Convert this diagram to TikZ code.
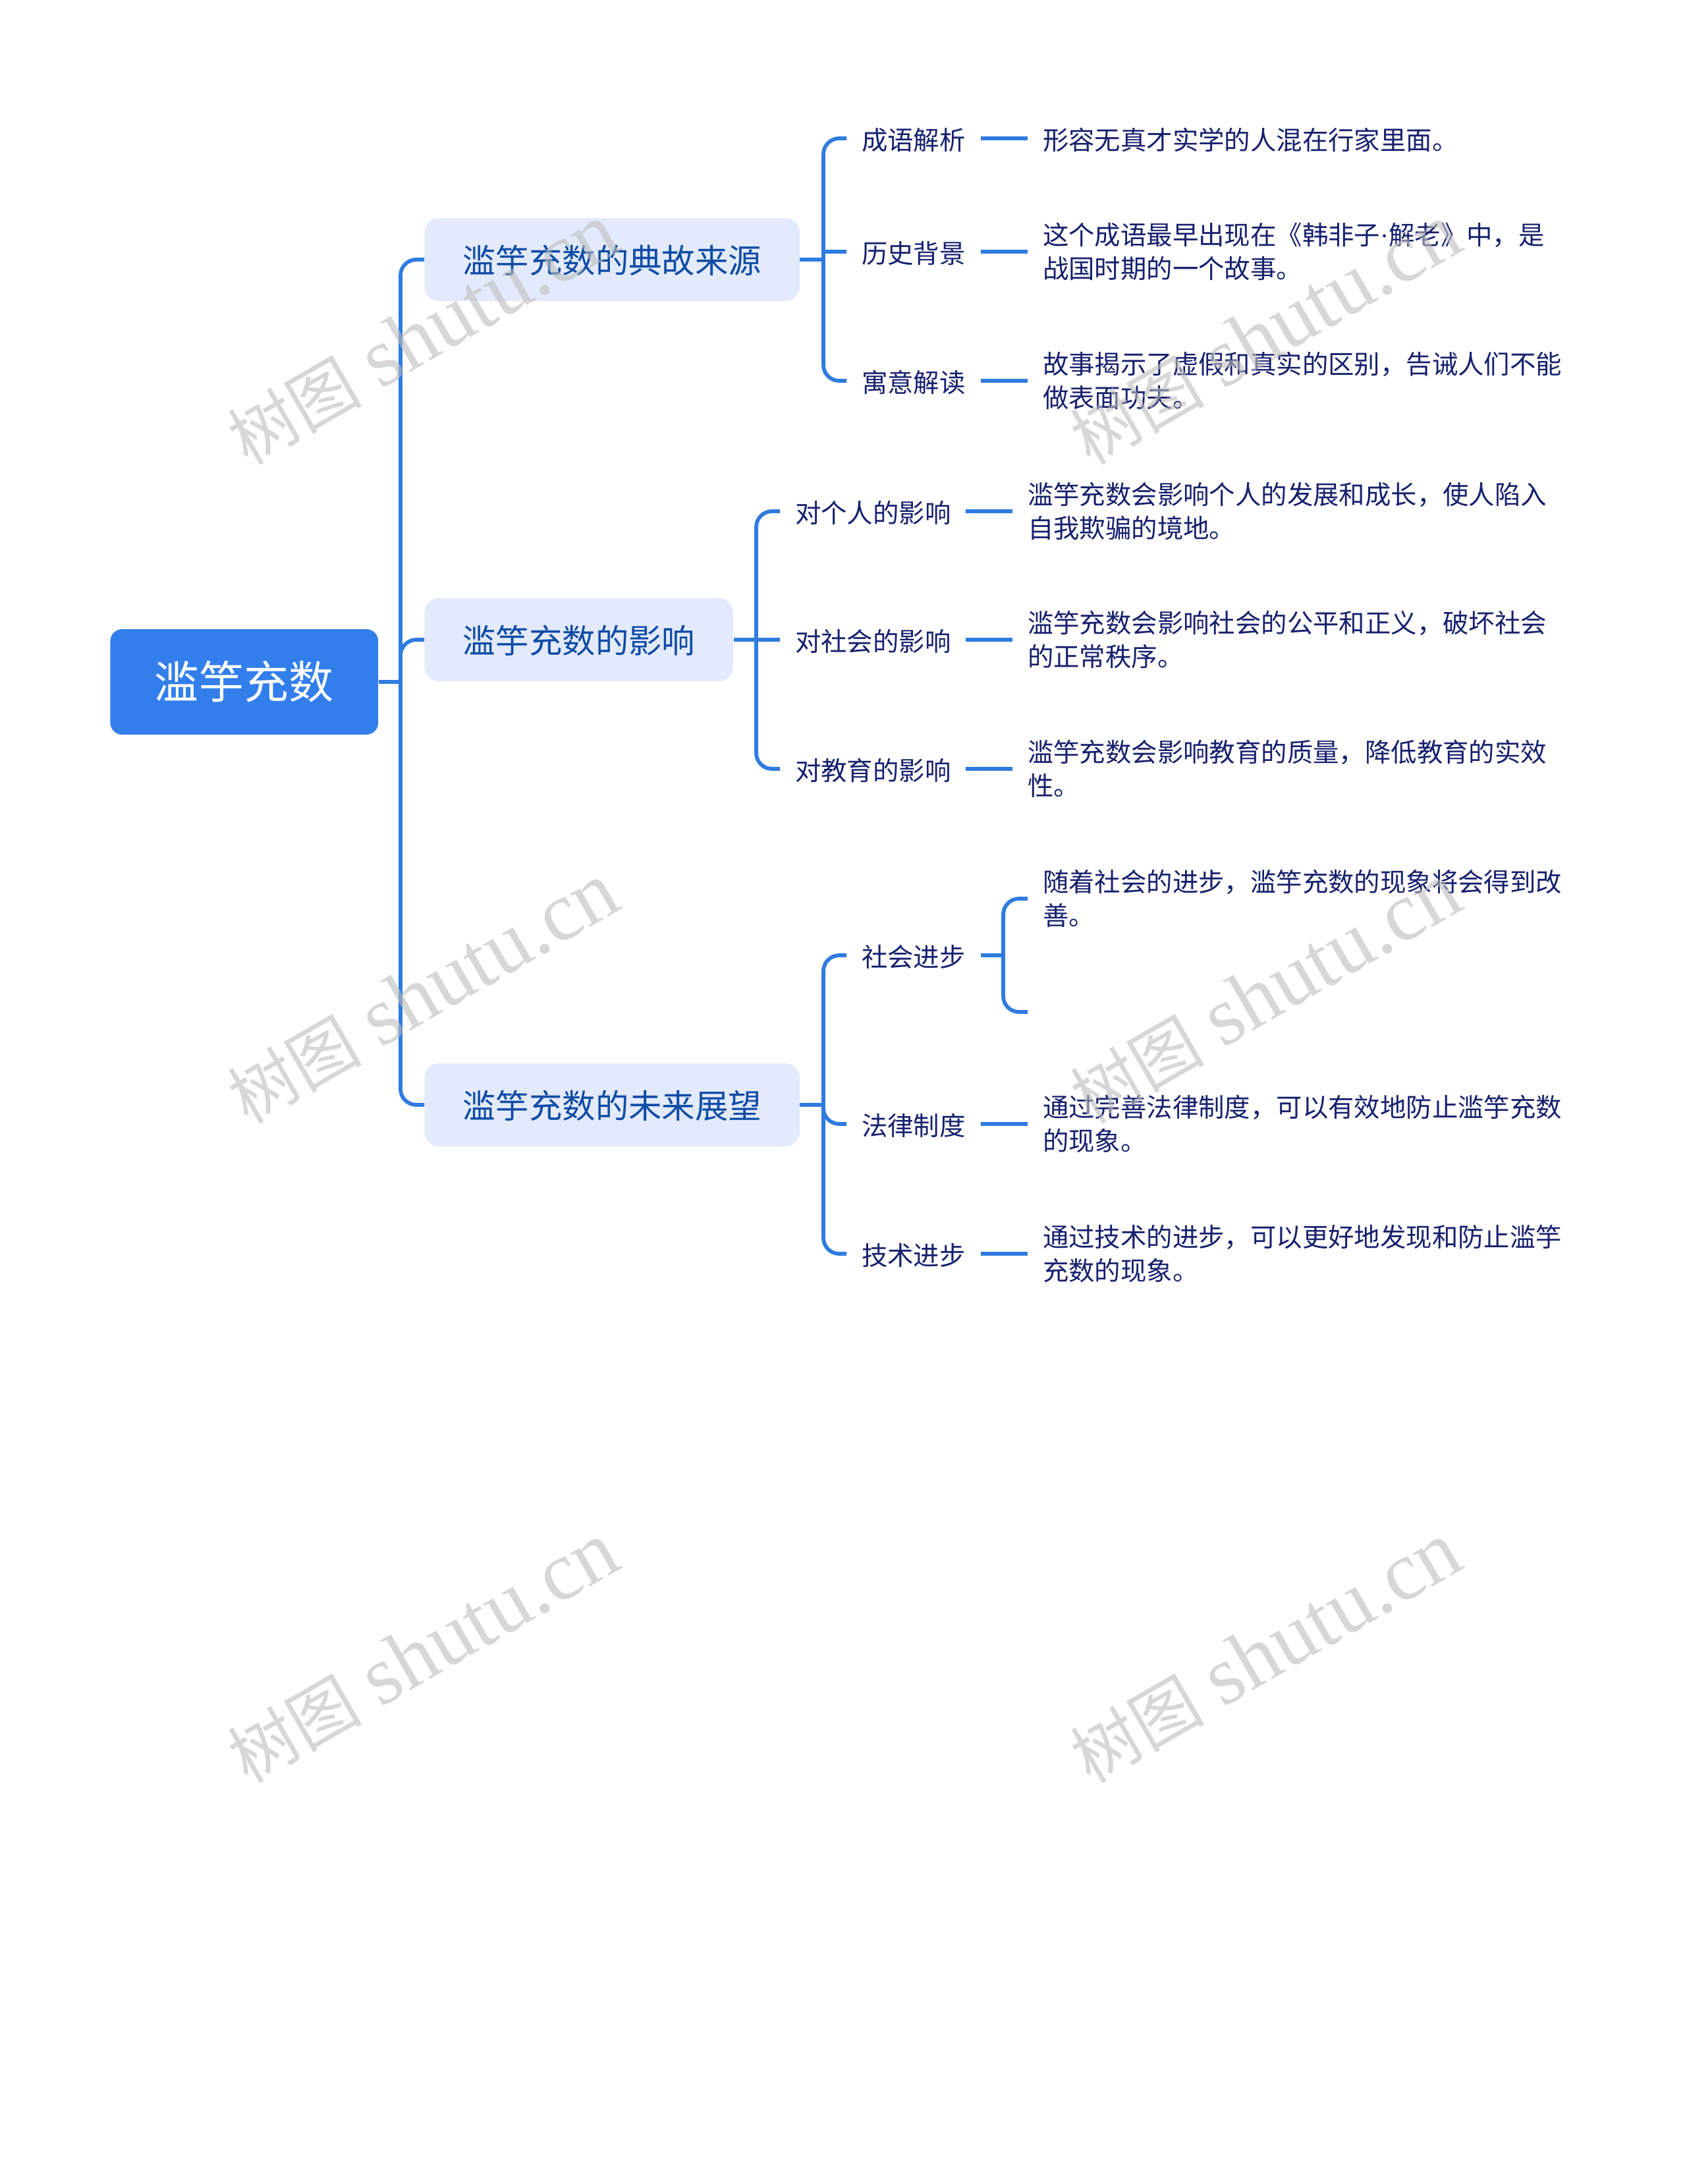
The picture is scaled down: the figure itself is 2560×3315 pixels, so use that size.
\documentclass[tikz,border=0pt]{standalone}
\usepackage{fontspec}
\setmainfont{Noto Sans CJK SC}
\newfontfamily\latinface{Liberation Serif}
\definecolor{linkblue}{HTML}{2F7BE0}
\definecolor{rootblue}{HTML}{327FEC}
\definecolor{lightblue}{HTML}{E3EAFB}
\definecolor{topicblue}{HTML}{0F4CA6}
\definecolor{inknavy}{HTML}{16206E}
\definecolor{wmgrey}{HTML}{BDBDBD}
\newcommand{\wmtext}{{\fontsize{51}{60}\selectfont 树图} {\latinface shutu.cn}}
\tikzset{
  link/.style={draw=linkblue,line width=2.9pt,rounded corners=12pt},
  rootbox/.style={fill=rootblue,rounded corners=9pt,text=white,inner xsep=33.7pt,inner ysep=0pt,minimum height=80pt,font=\fontsize{34}{40}\selectfont},
  topicbox/.style={fill=lightblue,rounded corners=11pt,text=topicblue,inner xsep=29pt,inner ysep=0pt,minimum height=63pt,anchor=west,execute at begin node={\rule{0pt}{22.5pt}},font=\fontsize{25.2}{30}\selectfont},
  headbox/.style={text=inknavy,inner xsep=11.3pt,inner ysep=0pt,anchor=west,align=left,execute at begin node={\rule{0pt}{19pt}},font=\fontsize{19.7}{25.4}\selectfont},
  leafbox/.style={headbox},
  wmark/.style={text=wmgrey,opacity=.6,rotate=30,font=\fontsize{63.5}{70}\selectfont}
}
\begin{document}
\begin{tikzpicture}[x=.5pt,y=-.5pt]
  \useasboundingbox (0,0) rectangle (2560,3315);
  \node[rootbox,anchor=west] (root) at (167,1035) {滥竽充数};
  \node[topicbox] (origin) at (644,394) {滥竽充数的典故来源};
  \node[topicbox] (effect) at (644,971) {滥竽充数的影响};
  \node[topicbox] (future) at (644,1677) {滥竽充数的未来展望};
  \coordinate (maintrunk) at (608,1035);
  \coordinate (origintrunk) at (1250,394);
  \coordinate (effecttrunk) at (1148,971);
  \coordinate (futuretrunk) at (1250,1677);
  \coordinate (progresstrunk) at (1523,1450);

  \node[headbox] (idiom) at (1285,210) {成语解析};
  \node[headbox] (history) at (1285,382) {历史背景};
  \node[headbox] (moral) at (1285,578) {寓意解读};
  \node[headbox] (person) at (1184,776) {对个人的影响};
  \node[headbox] (society) at (1184,971) {对社会的影响};
  \node[headbox] (education) at (1184,1167) {对教育的影响};
  \node[headbox] (progress) at (1285,1450) {社会进步};
  \node[headbox] (law) at (1285,1706) {法律制度};
  \node[headbox] (tech) at (1285,1903) {技术进步};

  \node[leafbox] (idiomtext) at (1560,210) {形容无真才实学的人混在行家里面。};
  \node[leafbox] (historytext) at (1560,382) {这个成语最早出现在《韩非子{\latinface ·}解老》中，是\\战国时期的一个故事。};
  \node[leafbox] (moraltext) at (1560,578) {故事揭示了虚假和真实的区别，告诫人们不能\\做表面功夫。};
  \node[leafbox] (persontext) at (1537,776) {滥竽充数会影响个人的发展和成长，使人陷入\\自我欺骗的境地。};
  \node[leafbox] (societytext) at (1537,971) {滥竽充数会影响社会的公平和正义，破坏社会\\的正常秩序。};
  \node[leafbox] (educationtext) at (1537,1167) {滥竽充数会影响教育的质量，降低教育的实效\\性。};
  \node[leafbox] (progresstext) at (1560,1364) {随着社会的进步，滥竽充数的现象将会得到改\\善。};
  \coordinate (progressend) at (1560,1536);
  \node[leafbox] (lawtext) at (1560,1706) {通过完善法律制度，可以有效地防止滥竽充数\\的现象。};
  \node[leafbox] (techtext) at (1560,1903) {通过技术的进步，可以更好地发现和防止滥竽\\充数的现象。};

  \draw[link] (root.east) -- (maintrunk);
  \draw[link] (origin.west) -| (maintrunk) |- (future.west);
  \draw[link] (effect.west) -| (maintrunk);

  \draw[link] (origin.east) -- (origintrunk);
  \draw[link] (idiom.west) -| (origintrunk) |- (moral.west);
  \draw[link] (history.west) -- (history.west -| origintrunk);
  \draw[link] (effect.east) -- (society.west);
  \draw[link] (person.west) -| (effecttrunk) |- (education.west);
  \draw[link] (future.east) -- (futuretrunk);
  \draw[link] (progress.west) -| (futuretrunk) |- (tech.west);
  \draw[link] (futuretrunk) |- (law.west);

  \draw[link] (idiom.east) -- (idiomtext.west);
  \draw[link] (history.east) -- (historytext.west);
  \draw[link] (moral.east) -- (moraltext.west);
  \draw[link] (person.east) -- (persontext.west);
  \draw[link] (society.east) -- (societytext.west);
  \draw[link] (education.east) -- (educationtext.west);
  \draw[link] (progress.east) -- (progresstrunk);
  \draw[link] (progresstext.west) -| (progresstrunk) |- (progressend);
  \draw[link] (law.east) -- (lawtext.west);
  \draw[link] (tech.east) -- (techtext.west);

  \node[wmark] (wmarka) at (642,508) {\wmtext};
  \node[wmark] (wmarkb) at (1921,508) {\wmtext};
  \node[wmark] (wmarkc) at (642,1508) {\wmtext};
  \node[wmark] (wmarkd) at (1921,1508) {\wmtext};
  \node[wmark] (wmarke) at (642,2509) {\wmtext};
  \node[wmark] (wmarkf) at (1921,2509) {\wmtext};
\end{tikzpicture}
\end{document}
